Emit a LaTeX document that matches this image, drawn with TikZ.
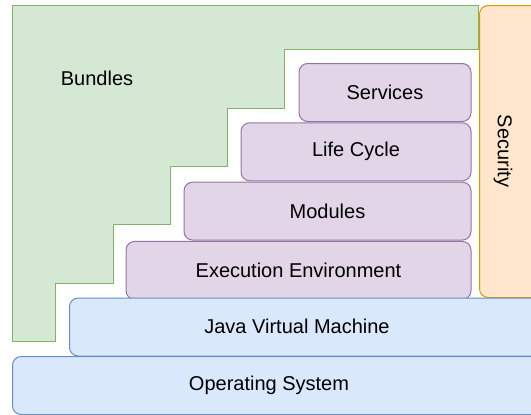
\documentclass[tikz,border=0pt]{standalone}
\usepackage{fontspec}
\setmainfont{Liberation Sans}
\usepackage{xcolor}
\usetikzlibrary{positioning}

\definecolor{bundlefill}{HTML}{D5E8D4}
\definecolor{bundleline}{HTML}{82B366}
\definecolor{fwfill}{HTML}{E1D5E7}
\definecolor{fwline}{HTML}{9673A6}
\definecolor{secfill}{HTML}{FFE6CC}
\definecolor{secline}{HTML}{D79B00}
\definecolor{basefill}{HTML}{DAE8FC}
\definecolor{baseline}{HTML}{6C8EBF}

\begin{document}
\begin{tikzpicture}[x=1pt, y=-1pt, node distance=0.3pt,
      every node/.style={font=\fontsize{20}{24}\selectfont, inner sep=0pt},
      layer/.style={draw, rounded corners=8.7pt, line width=1pt},
      fw/.style={layer, fill=fwfill, draw=fwline, minimum height=58pt},
      base/.style={layer, fill=basefill, draw=baseline, minimum height=58pt},
      sec/.style={layer, fill=secfill, draw=secline}]

      \clip (0,0) rectangle (531,415);

      % bundles, stepped
      \draw[fill=bundlefill, draw=bundleline, line width=1pt]
        (12,5) -| (478,49) -| (284,108) -| (227,166) -| (170,224)
        -| (113,283) -| (55,341) -- (12,341) -- cycle;
      \node[] (bundles) at (97,78) {Bundles};

      % framework layers
      \node[fw, minimum width=172pt] (services) at (385,92.5) {Services};
      \node[fw, minimum width=230pt] (lifecycle) [below=of services.south east, anchor=north east] {Life Cycle};
      \node[fw, minimum width=287pt] (modules) [below=of lifecycle.south east, anchor=north east] {Modules};
      \node[fw, minimum width=345pt] (execenv) [below=of modules.south east, anchor=north east] {Execution Environment};

      \node[sec, minimum width=80pt, minimum height=292pt, anchor=north west] (security) at (479,5) {};
      \node[rotate=-90] (securitytext) at (503,151) {Security};

      % platform
      \node[base, minimum width=491pt, anchor=north west] (jvm) at (69,297.5) {};
      \node[] (jvmtext) at (297,326.5) {Java Virtual Machine};
      \node[base, minimum width=548pt, anchor=north west] (os) at (12,356) {};
      \node[] (ostext) at (269,385) {Operating System};

    \end{tikzpicture}
\end{document}
